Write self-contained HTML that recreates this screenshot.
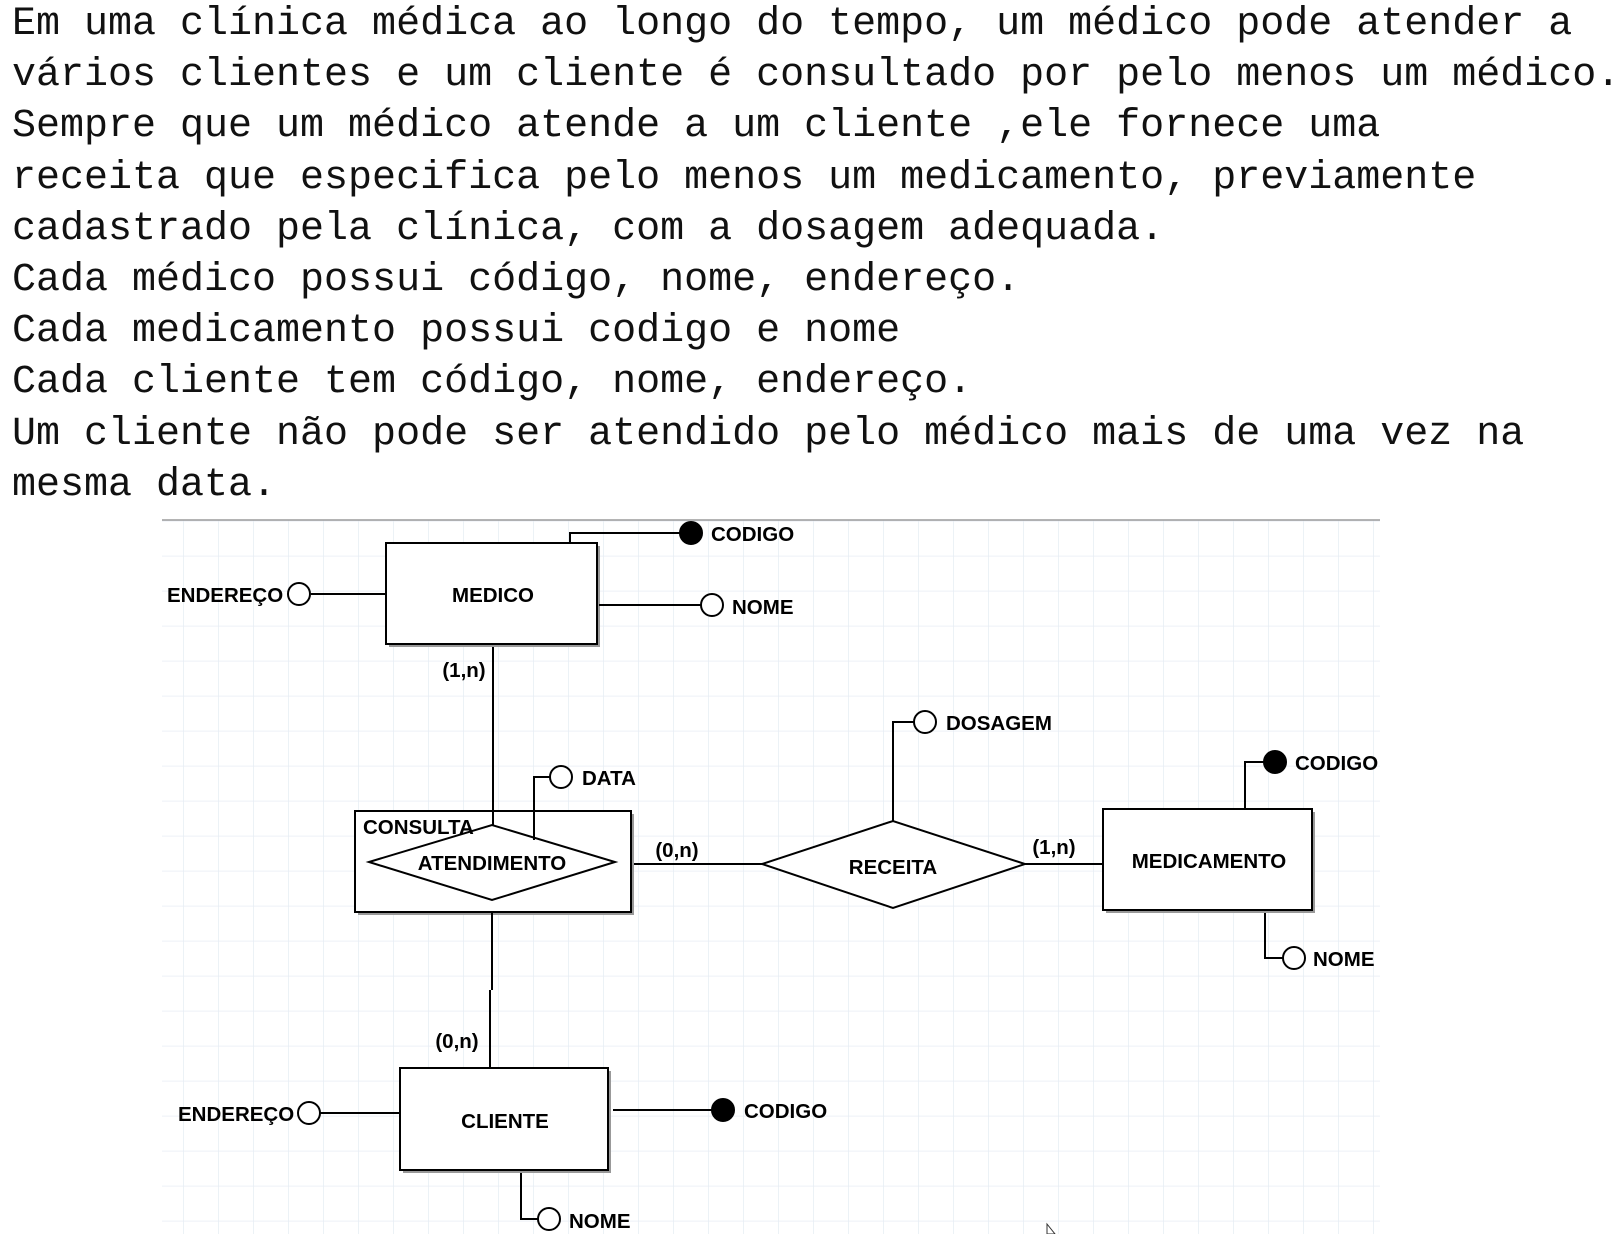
<!DOCTYPE html>
<html><head><meta charset="utf-8"><style>
html,body{margin:0;padding:0;background:#fff;width:1620px;height:1234px;overflow:hidden;position:relative}
#t{position:absolute;left:12px;top:-1px;font-family:"Liberation Mono",monospace;font-size:40px;line-height:51.2px;color:#111;white-space:pre;letter-spacing:0}
svg{position:absolute;left:0;top:0}
svg text{font-family:"Liberation Sans",Arial,sans-serif;font-weight:bold;font-size:20.5px;fill:#000}
</style></head><body>
<svg width="1620" height="1234" viewBox="0 0 1620 1234">
<defs>
<pattern id="g" x="8" y="30.7" width="35" height="35" patternUnits="userSpaceOnUse">
<path d="M0 0H35M0 0V35" stroke="#e6edf4" stroke-width="1.5" fill="none"/>
</pattern>
</defs>
<rect x="162" y="520" width="1218" height="714" fill="url(#g)"/>
<line x1="162" y1="520" x2="1380" y2="520" stroke="#888" stroke-width="1.2"/>
<g stroke="#000" stroke-width="2" fill="none">
<rect x="389" y="546" width="211" height="101" fill="#999" stroke="none"/>
<rect x="386" y="543" width="211" height="101" fill="#fff"/>
<polyline points="570,543 570,533 680,533"/>
<line x1="311" y1="594" x2="386" y2="594"/>
<line x1="599" y1="605" x2="701" y2="605"/>
<line x1="493" y1="647" x2="493" y2="825"/>
<rect x="358" y="814" width="276" height="101" fill="#999" stroke="none"/>
<rect x="355" y="811" width="276" height="101" fill="#fff"/>
<polygon points="369,862 492,825 615,862 492,900" fill="#fff"/>
<line x1="493" y1="811" x2="493" y2="825"/>
<polyline points="534,840 534,777 550,777"/>
<line x1="634" y1="864" x2="762" y2="864"/>
<line x1="492" y1="912" x2="492" y2="990"/>
<line x1="490" y1="990" x2="490" y2="1068"/>
<polygon points="762,864 893,821 1025,864 893,908" fill="#fff"/>
<polyline points="893,821 893,722 914,722"/>
<line x1="1025" y1="864" x2="1103" y2="864"/>
<rect x="1106" y="812" width="209" height="101" fill="#999" stroke="none"/>
<rect x="1103" y="809" width="209" height="101" fill="#fff"/>
<polyline points="1245,809 1245,762 1264,762"/>
<polyline points="1265,913 1265,958 1283,958"/>
<rect x="403" y="1071" width="208" height="102" fill="#999" stroke="none"/>
<rect x="400" y="1068" width="208" height="102" fill="#fff"/>
<line x1="320" y1="1113" x2="400" y2="1113"/>
<line x1="613" y1="1110" x2="712" y2="1110"/>
<polyline points="521,1173 521,1219 538,1219"/>
</g>
<g stroke="#000" stroke-width="2">
<ellipse cx="691" cy="533" rx="11" ry="11" fill="#000"/>
<ellipse cx="299" cy="594" rx="11" ry="11" fill="#fff"/>
<ellipse cx="712" cy="605" rx="11" ry="11" fill="#fff"/>
<ellipse cx="561" cy="777" rx="11" ry="11" fill="#fff"/>
<ellipse cx="925" cy="722" rx="11" ry="11" fill="#fff"/>
<ellipse cx="1275" cy="762" rx="11" ry="11" fill="#000"/>
<ellipse cx="1294" cy="958" rx="11" ry="11" fill="#fff"/>
<ellipse cx="309" cy="1113" rx="11" ry="11" fill="#fff"/>
<ellipse cx="723" cy="1110" rx="11" ry="11" fill="#000"/>
<ellipse cx="549" cy="1219" rx="11" ry="11" fill="#fff"/>
</g>
<text x="711" y="541">CODIGO</text>
<text x="167" y="602">ENDEREÇO</text>
<text x="493" y="602" text-anchor="middle">MEDICO</text>
<text x="732" y="614">NOME</text>
<text x="464" y="677" text-anchor="middle">(1,n)</text>
<text x="946" y="730">DOSAGEM</text>
<text x="1295" y="770">CODIGO</text>
<text x="582" y="785">DATA</text>
<text x="363" y="834">CONSULTA</text>
<text x="492" y="870" text-anchor="middle">ATENDIMENTO</text>
<text x="677" y="857" text-anchor="middle">(0,n)</text>
<text x="893" y="874" text-anchor="middle">RECEITA</text>
<text x="1054" y="854" text-anchor="middle">(1,n)</text>
<text x="1209" y="868" text-anchor="middle">MEDICAMENTO</text>
<text x="1313" y="966">NOME</text>
<text x="457" y="1048" text-anchor="middle">(0,n)</text>
<text x="178" y="1121">ENDEREÇO</text>
<text x="505" y="1128" text-anchor="middle">CLIENTE</text>
<text x="744" y="1118">CODIGO</text>
<text x="569" y="1228">NOME</text>
<polygon points="1047,1224 1047,1234 1055,1234" fill="#fff" stroke="#333" stroke-width="1"/>
</svg>
<div id="t">Em uma clínica médica ao longo do tempo, um médico pode atender a
vários clientes e um cliente é consultado por pelo menos um médico.
Sempre que um médico atende a um cliente ,ele fornece uma
receita que especifica pelo menos um medicamento, previamente
cadastrado pela clínica, com a dosagem adequada.
Cada médico possui código, nome, endereço.
Cada medicamento possui codigo e nome
Cada cliente tem código, nome, endereço.
Um cliente não pode ser atendido pelo médico mais de uma vez na
mesma data.</div>
</body></html>
